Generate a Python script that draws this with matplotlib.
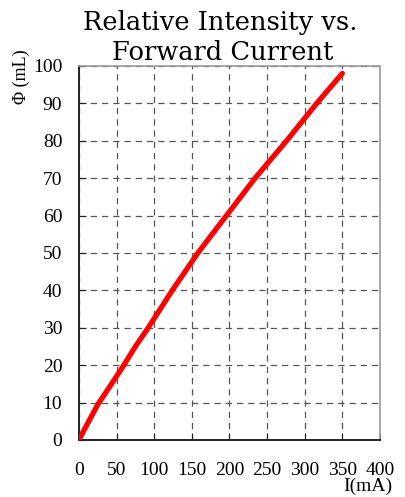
import matplotlib
matplotlib.use("Agg")
import matplotlib.pyplot as plt

# forward current (mA) vs relative intensity
current_ma = [0, 5, 13, 25, 40, 58, 75, 92, 108, 124, 141, 158, 177, 196, 215, 234, 255, 276, 296, 316, 333, 350]
intensity = [0, 2, 5, 9.5, 14, 19.5, 25, 30, 35, 40, 45, 50, 55, 60, 65, 70, 75, 80, 85, 90, 94, 98]

x_ticks = [0, 50, 100, 150, 200, 250, 300, 350, 400]
y_ticks = [0, 10, 20, 30, 40, 50, 60, 70, 80, 90, 100]

fig = plt.figure(figsize=(4.05, 4.97), dpi=100)
ax = fig.add_axes([0.195, 0.1147, 0.743, 0.7526])

ax.plot(current_ma, intensity, color="#ff0000", linewidth=3.8,
        solid_capstyle="round", solid_joinstyle="round", zorder=3)

ax.set_xlim(0, 400)
ax.set_ylim(0, 100)
ax.set_xticks(x_ticks)
ax.set_yticks(y_ticks)
ax.grid(True, color="#555555", linestyle=(0, (5, 4)), linewidth=0.9)

for side in ["left", "bottom"]:
    ax.spines[side].set_color("#222222")
    ax.spines[side].set_linewidth(1.4)
for side in ["top", "right"]:
    ax.spines[side].set_color("#999999")
    ax.spines[side].set_linewidth(1.2)

tick_font = {"family": "Liberation Serif", "size": 14}
ax.set_xticklabels([str(v) for v in x_ticks], fontdict=tick_font)
ax.set_yticklabels([str(v) for v in y_ticks], fontdict=tick_font)
ax.tick_params(axis="x", direction="in", length=5, pad=16, color="#222222")
ax.tick_params(axis="y", direction="in", length=5, pad=12, color="#222222")

fig.text(0.543, 0.955, "Relative Intensity vs.", ha="center", va="center",
         family="DejaVu Serif", fontsize=18.5)
fig.text(0.551, 0.895, "Forward Current", ha="center", va="center",
         family="DejaVu Serif", fontsize=18.5)
fig.text(0.052, 0.845, "Φ (mL)", rotation=90, ha="center", va="center",
         family="Liberation Serif", fontsize=13)
fig.text(0.968, 0.004, "I(mA)", ha="right", va="bottom",
         family="Liberation Serif", fontsize=14)

fig.savefig("out.png", dpi=100)
